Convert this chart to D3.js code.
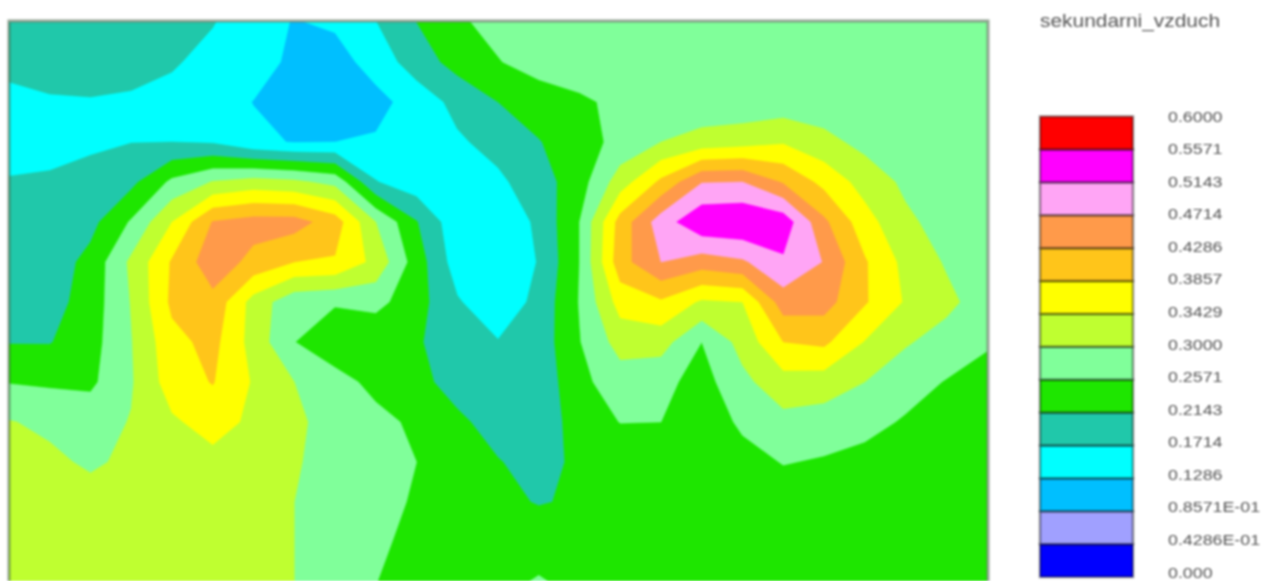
<!DOCTYPE html>
<html>
<head>
<meta charset="utf-8">
<script src="https://cdn.jsdelivr.net/npm/d3@7"></script>
<style>
html,body{margin:0;padding:0;background:#fff;overflow:hidden}
svg{display:block;filter:blur(0.8px)}
text{font-family:"Liberation Sans",Arial,sans-serif;fill:#555}
</style>
</head>
<body>
<svg id="chart" width="1268" height="581"></svg>
<script>
const chartTitle = "sekundarni_vzduch";
const tickLabels = ["0.000","0.4286E-01","0.8571E-01","0.1286","0.1714","0.2143","0.2571","0.3000","0.3429","0.3857","0.4286","0.4714","0.5143","0.5571","0.6000"];
const tickValues = [0,0.04286,0.08571,0.1286,0.1714,0.2143,0.2571,0.3,0.3429,0.3857,0.4286,0.4714,0.5143,0.5571,0.6];
const bandColors = ["#0000ff","#a0a0ff","#00bfff","#00ffff","#20c8aa","#1ee600","#80ff9a","#bfff30","#ffff00","#ffc51a","#ff9a4a","#ffa5f5","#ff00ff","#ff0000"];

const row00 = [4.5,4.5,4.5,4.5,4.4,4.05,3.4,2.95,3.15,3.97,5.0,5.85,6.3,6.5,6.5,6.5,6.5,6.5,6.5,6.5,6.5,6.5,6.5,6.5,6.5];
const row01 = [4.4,4.6,4.7,4.5,4.1,3.7,3.4,2.8,2.6,3.4,4.5,5.35,5.95,6.4,6.5,6.5,6.5,6.5,6.5,6.5,6.5,6.5,6.5,6.5,6.5];
const row02 = [3.6,3.85,3.9,3.8,3.7,3.4,2.98,2.65,2.5,2.7,3.4,4.3,5.0,5.5,5.85,6.2,6.4,6.3,6.3,6.4,6.4,6.5,6.5,6.5,6.5];
const row03 = [3.4,3.5,3.8,3.98,4.0,3.9,3.2,2.95,3.0,3.1,3.5,3.85,4.35,4.95,5.55,6.3,7.0,7.4,7.6,7.9,7.3,6.7,6.6,6.5,6.5];
const row04 = [4.1,4.2,4.4,4.75,6.2,7.05,7.4,7.2,6.7,4.05,3.4,3.3,3.8,4.55,5.55,7.5,9.2,10.95,11.0,9.9,8.7,7.6,6.8,6.5,6.5];
const row05 = [4.25,4.35,4.7,6.1,8.0,10.05,10.4,10.4,9.5,7.0,5.05,3.3,3.2,4.2,6.0,9.4,11.5,12.8,12.9,12.6,10.2,8.4,7.2,6.6,6.5];
const row06 = [4.3,4.45,5.3,7.2,9.1,10.6,9.7,9.0,8.9,7.7,5.5,3.5,3.2,4.05,6.0,9.6,11.0,10.5,10.85,11.85,10.95,9.1,7.7,6.9,6.5];
const row07 = [4.4,4.6,5.45,7.05,9.2,9.7,7.6,6.3,6.1,6.3,5.4,4.1,3.3,4.3,6.05,8.4,8.85,7.85,8.0,10.5,10.4,9.1,7.9,7.25,6.5];
const row08 = [4.95,4.95,5.6,6.95,8.7,9.3,7.6,6.02,5.3,5.2,5.1,4.5,4.05,4.4,5.95,7.4,7.4,6.0,7.35,9.0,9.2,7.95,7.1,6.6,6.15];
const row09 = [5.95,5.85,5.8,6.9,8.5,9.05,7.9,7.0,6.4,5.7,5.3,4.6,4.25,4.3,5.75,6.5,6.3,5.6,6.75,7.6,7.5,7.0,6.4,5.95,5.5];
const row10 = [7.05,6.8,6.6,7.05,7.85,8.4,7.8,7.15,6.7,6.3,5.8,5.2,4.6,4.3,5.5,6.02,6.0,5.3,6.2,6.7,6.55,6.3,5.9,5.6,5.4];
const row11 = [7.2,7.2,6.85,7.2,7.5,7.7,7.6,7.1,6.6,6.3,6.0,5.5,5.05,4.65,5.2,5.3,5.3,5.2,5.6,6.05,5.9,5.7,5.5,5.4,5.3];
const row12 = [7.4,7.4,7.4,7.4,7.4,7.4,7.3,7.0,6.7,6.3,5.9,5.5,5.2,4.95,5.1,5.4,5.4,5.4,5.4,5.4,5.4,5.4,5.4,5.3,5.3];
const row13 = [7.4,7.4,7.4,7.4,7.4,7.4,7.3,7.0,6.5,6.2,5.7,5.5,5.5,5.5,5.5,5.5,5.5,5.5,5.5,5.5,5.5,5.5,5.5,5.5,5.5];
const row14 = [7.5,7.5,7.5,7.5,7.5,7.5,7.5,7.0,6.5,6.02,5.5,5.6,5.7,6.1,5.7,5.5,5.5,5.5,5.5,5.5,5.5,5.5,5.5,5.5,5.5];
const rows = [row00,row01,row02,row03,row04,row05,row06,row07,row08,row09,row10,row11,row12,row13,row14];

const svg = d3.select("#chart");
const nx = rows[0].length, ny = rows.length;
const plot = {left:9, right:987, top:22, bottom:582};

const levelToValue = d3.scaleLinear().domain([0,14]).range([0,0.6]);
const values = rows.flat().map(levelToValue);

// d3.contours places sample i at i + 0.5
const xMesh = d3.scaleLinear().domain([0.5, nx-0.5]).range([plot.left, plot.right]);
const yMesh = d3.scaleLinear().domain([0.5, ny-0.5]).range([plot.top, plot.bottom]);
const meshPath = d3.geoPath(d3.geoTransform({
  point(x,y){ this.stream.point(xMesh(x), yMesh(y)); }
}));

svg.append("clipPath").attr("id","plotClip").append("rect")
  .attr("x",plot.left).attr("y",plot.top)
  .attr("width",plot.right-plot.left).attr("height",plot.bottom-plot.top);

const bands = d3.contours().size([nx,ny]).smooth(true).thresholds(tickValues.slice(0,-1))(values);

svg.append("g").attr("clip-path","url(#plotClip)")
  .selectAll("path").data(bands).join("path")
  .attr("d",meshPath)
  .attr("fill",(d,i)=>bandColors[i])
  .attr("stroke",(d,i)=>bandColors[i])
  .attr("stroke-width",0.5);

// plot frame
svg.append("rect")
  .attr("x",plot.left).attr("y",plot.top-1)
  .attr("width",plot.right-plot.left+1).attr("height",plot.bottom-plot.top+20)
  .attr("fill","none").attr("stroke","#3c5a3c").attr("stroke-opacity",0.55).attr("stroke-width",3);

// colour key
const keyY = d3.scaleLinear().domain([0,14]).range([577,116.5]);
const keyX = {left:1040, right:1133};
const key = svg.append("g");
key.selectAll("rect").data(bandColors).join("rect")
  .attr("x",keyX.left).attr("width",keyX.right-keyX.left)
  .attr("y",(d,i)=>keyY(i+1)).attr("height",(d,i)=>keyY(i)-keyY(i+1))
  .attr("fill",d=>d)
  .attr("stroke","#000").attr("stroke-opacity",0.42).attr("stroke-width",2.4);

const labelY = d3.scaleLinear().domain([0,14]).range([572,116]);
svg.append("g").selectAll("text").data(tickLabels).join("text")
  .attr("transform",(d,i)=>`translate(1168,${labelY(i)+5.6}) scale(1.15,1)`)
  .attr("font-size",15.5)
  .text(d=>d);

svg.append("text")
  .attr("transform","translate(1040,27) scale(1.1,1)")
  .attr("font-size",19)
  .text(chartTitle);
</script>
</body>
</html>
